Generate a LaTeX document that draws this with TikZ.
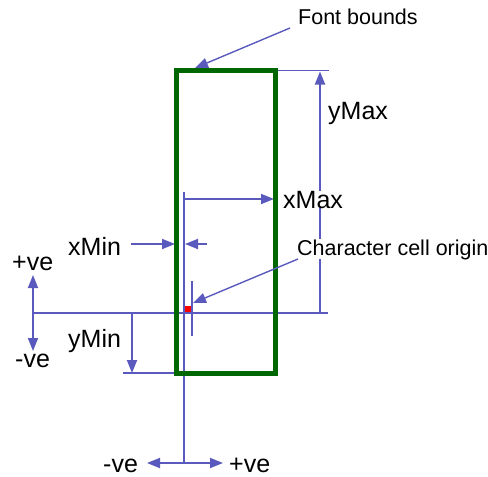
\documentclass[tikz,border=0pt]{standalone}
\usepackage{fontspec}
\setmainfont{Liberation Sans}
\usetikzlibrary{arrows.meta}
\definecolor{dimblue}{RGB}{90,90,190}
\definecolor{boxgreen}{RGB}{0,102,0}
\tikzset{
  dim/.style={draw=dimblue, line width=1.8pt},
  tip/.style={-{Triangle[length=13pt,width=10pt]}},
  dtip/.style={{Triangle[length=13pt,width=10pt]}-{Triangle[length=13pt,width=10pt]}},
  biglbl/.style={inner sep=0pt, anchor=base west, font=\fontsize{25}{30}\selectfont},
  smalllbl/.style={inner sep=0pt, anchor=base west, font=\fontsize{21.5}{26}\selectfont},
  bgfill/.style={fill=white}
}
\begin{document}
\begin{tikzpicture}[x=1pt,y=-1pt]
\useasboundingbox (0,0) rectangle (488,477);
% coordinates
\coordinate (boxTL) at (176.5,70.5);
\coordinate (boxBR) at (275.5,373.5);
\coordinate (vTop) at (184,192);
\coordinate (vBot) at (184,463);
\coordinate (hL) at (33,313);
\coordinate (hR) at (328,313);
\coordinate (sgnTop) at (33,275);
\coordinate (sgnBot) at (33,351);
\coordinate (hxL) at (147,463);
\coordinate (hxR) at (223,463);
\coordinate (yMaxTopL) at (275,70.5);
\coordinate (yMaxTopR) at (329,70.5);
\coordinate (yMaxBase) at (320,313);
\coordinate (yMaxTip) at (320,71.5);
\coordinate (xMaxS) at (184,199);
\coordinate (xMaxT) at (274,199);
\coordinate (xMinLS) at (131,244);
\coordinate (xMinLT) at (175,244);
\coordinate (xMinRS) at (207,244);
\coordinate (xMinRT) at (185,244);
\coordinate (yMinS) at (132,313);
\coordinate (yMinT) at (132,373);
\coordinate (yMinL) at (123,373);
\coordinate (yMinR) at (178,373);
\coordinate (tickT) at (192,281);
\coordinate (tickB) at (192,336);
\coordinate (chS) at (298,259);
\coordinate (chT) at (193,303);
\coordinate (fbS) at (290,28);
\coordinate (fbT) at (195,68);

% blue dimension lines
\draw[dim] (hL) -- (hR);
\draw[dim, dtip] (sgnTop) -- (sgnBot);
\draw[dim] (vTop) -- (vBot);
\draw[dim, dtip] (hxL) -- (hxR);
\draw[dim] (yMaxTopL) -- (yMaxTopR);
\draw[dim, tip] (yMaxBase) -- (yMaxTip);
\draw[dim, tip] (xMaxS) -- (xMaxT);
\draw[dim, tip] (xMinLS) -- (xMinLT);
\draw[dim, tip] (xMinRS) -- (xMinRT);
\draw[dim, tip] (yMinS) -- (yMinT);
\draw[dim] (yMinL) -- (yMinR);
\draw[dim] (tickT) -- (tickB);

% font bounds box
\draw[draw=boxgreen, line width=4.5pt] (boxTL) rectangle (boxBR);

% origin marker
\node[fill=red, minimum size=6.5pt, inner sep=0pt] (origin) at (188,309) {};

% labels
\node[biglbl, bgfill] (xmax) at (283,208) {xMax};
\node[biglbl] (ymax) at (328,119) {yMax};
\node[biglbl] (xmin) at (68,255) {xMin};
\node[biglbl] (ymin) at (68,347) {yMin};
\node[biglbl] (pveL) at (12,270) {+ve};
\node[biglbl] (nveL) at (15,367) {-ve};
\node[biglbl] (nveB) at (103,472) {-ve};
\node[biglbl] (pveB) at (229,472) {+ve};
\node[smalllbl] (fb) at (298,24) {Font bounds};
\node[smalllbl, fill=white] (cco) at (297,255) {Character cell origin};

% annotation arrows
\draw[dim, tip, line width=1.4pt] (chS) -- (chT);
\draw[dim, tip, line width=1.4pt] (fbS) -- (fbT);
\end{tikzpicture}
\end{document}
